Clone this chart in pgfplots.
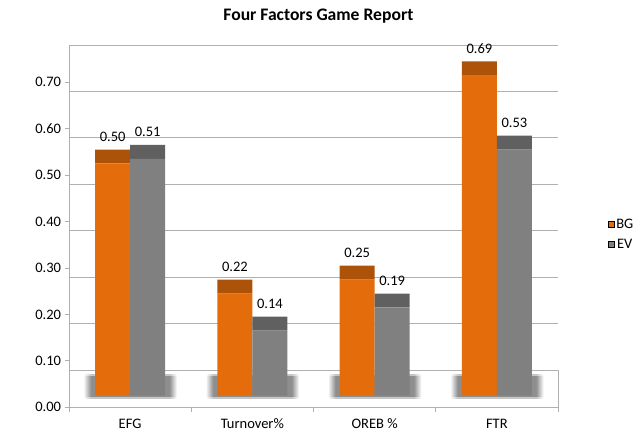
\documentclass[border=0pt]{standalone}
\usepackage{fontspec}
\setmainfont{Carlito}
\usepackage{pgfplots}
\pgfplotsset{compat=1.18}
\usepackage{pgfplotstable}

\definecolor{bgfront}{HTML}{E46C0A}
\definecolor{bgcap}{HTML}{AC5209}
\definecolor{evfront}{HTML}{808080}
\definecolor{evcap}{HTML}{606060}
\definecolor{gridc}{HTML}{B0B0B0}
\definecolor{shin}{HTML}{8E8E8E}
\definecolor{shout}{HTML}{C6C6C6}
\pgfdeclarehorizontalshading{shadowin}{100bp}{color(0bp)=(white); color(25bp)=(white); color(29bp)=(shin); color(71bp)=(shin); color(75bp)=(white); color(100bp)=(white)}
\pgfdeclarehorizontalshading{shadowout}{100bp}{color(0bp)=(white); color(25bp)=(white); color(29bp)=(shout); color(71bp)=(shout); color(75bp)=(white); color(100bp)=(white)}
\newcommand\lab{\fontsize{14.5bp}{17bp}\selectfont}
% shadow rectangle: x1 x2 ybottom ytop shading
\newcommand\shl[5]{\addplot[forget plot, draw=none, shade, shading=#5] coordinates {(#1,#3) (#2,#3) (#2,#4) (#1,#4)};}

\pgfplotstableread{
x bg ev base cap
0 0.50 0.51 0.025 0.03
1 0.22 0.14 0.025 0.03
2 0.25 0.19 0.025 0.03
3 0.69 0.53 0.025 0.03
}\data

\pgfplotsset{frame/.style={scale only axis, width=489bp, height=362.3bp,
  xmin=-0.5, xmax=3.5, ymin=0, ymax=0.78, at={(69bp,30.7bp)}, anchor=south west, clip=false}}

\begin{document}
\begin{tikzpicture}
\useasboundingbox (0,0) rectangle (640bp,438bp);
\begin{axis}[frame,
  axis x line*=bottom, axis y line*=left,
  axis line style={draw=gridc, line width=0.9bp},
  tick align=outside, major tick length=4.5bp,
  tick style={draw=gridc, line width=0.9bp},
  ytick={0,0.1,0.2,0.3,0.4,0.5,0.6,0.7},
  yticklabel={\pgfmathprintnumber[fixed,fixed zerofill,precision=2,assume math mode=true]{\tick}},
  yticklabel style={font=\lab, text=black},
  xtick={-0.5,0.5,1.5,2.5,3.5}, xticklabels={},
  extra x ticks={0,1,2,3},
  extra x tick labels={EFG,Turnover\%,OREB \%,FTR},
  extra x tick style={major tick length=0pt, xticklabel style={font=\lab, text=black, yshift=-8bp}},
  extra y ticks={0.08,0.18,0.28,0.38,0.48,0.58,0.68,0.78},
  extra y tick labels={},
  extra y tick style={major tick length=0pt, grid=major},
  major grid style={draw=gridc, line width=0.9bp},
  title={Four Factors Game Report},
  title style={font=\bfseries\fontsize{17.6bp}{21bp}\selectfont, at={(0.510,1.080)}, anchor=center, yshift=-6bp},
  legend style={draw=none, fill=none, inner sep=0pt, at={(1.1016,0.477)}, anchor=west, font=\lab, row sep=5.5bp},
  legend image code/.code={\fill[#1] (0bp,-3bp) rectangle (6bp,3bp);},
]
% soft shadows under the clusters
\shl{-0.382}{0.382}{0.0190}{0.0700}{shadowout}
\shl{-0.382}{0.382}{0.0225}{0.0665}{shadowin}
\shl{0.618}{1.382}{0.0190}{0.0700}{shadowout}
\shl{0.618}{1.382}{0.0225}{0.0665}{shadowin}
\shl{1.618}{2.382}{0.0190}{0.0700}{shadowout}
\shl{1.618}{2.382}{0.0225}{0.0665}{shadowin}
\shl{2.618}{3.382}{0.0190}{0.0700}{shadowout}
\shl{2.618}{3.382}{0.0225}{0.0665}{shadowin}
\addplot[forget plot, draw=gridc, line width=0.9bp] coordinates {(3.5,0) (3.5,0.08)};
% data labels above the bar tops
\addplot[forget plot, only marks, mark=none, nodes near coords, point meta=explicit symbolic,
  nodes near coords style={font=\lab, text=black, anchor=south, yshift=4.5bp}]
  table[x expr=\thisrow{x}-0.143, y expr=\thisrow{bg}+0.055, meta=bg]{\data};
\addplot[forget plot, only marks, mark=none, nodes near coords, point meta=explicit symbolic,
  nodes near coords style={font=\lab, text=black, anchor=south, yshift=4.5bp}]
  table[x expr=\thisrow{x}+0.143, y expr=\thisrow{ev}+0.055, meta=ev]{\data};
\addlegendimage{fill=bgfront}
\addlegendentry{BG}
\addlegendimage{fill=evfront}
\addlegendentry{EV}
\end{axis}

\begin{axis}[frame, hide axis, ybar stacked, bar width=0.286]
\addplot[draw=none, fill=none] table[x expr=\thisrow{x}-0.143, y=base]{\data};
\addplot[draw=none, fill=bgfront] table[x expr=\thisrow{x}-0.143, y=bg]{\data};
\addplot[draw=none, fill=bgcap] table[x expr=\thisrow{x}-0.143, y=cap]{\data};
\end{axis}

\begin{axis}[frame, hide axis, ybar stacked, bar width=0.286]
\addplot[draw=none, fill=none] table[x expr=\thisrow{x}+0.143, y=base]{\data};
\addplot[draw=none, fill=evfront] table[x expr=\thisrow{x}+0.143, y=ev]{\data};
\addplot[draw=none, fill=evcap] table[x expr=\thisrow{x}+0.143, y=cap]{\data};
\end{axis}
\end{tikzpicture}
\end{document}
